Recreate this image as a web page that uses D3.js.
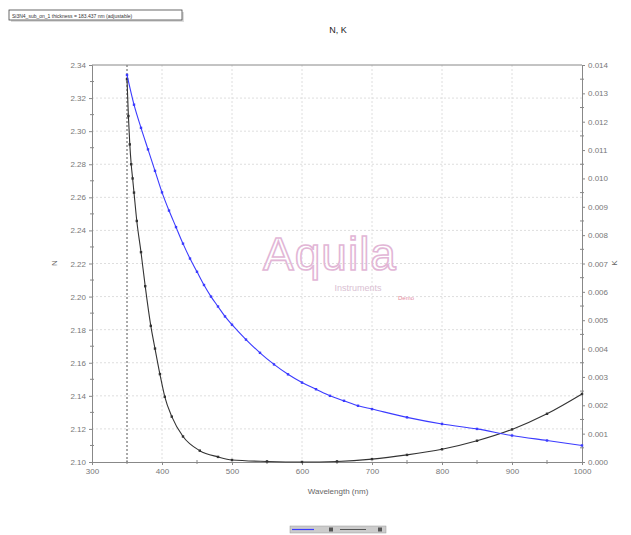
<!DOCTYPE html>
<html>
<head>
<meta charset="utf-8">
<script src="https://cdn.jsdelivr.net/npm/d3@7"></script>
<style>
  body { margin: 0; background: #fff; }
  svg { font-family: "Liberation Sans", Arial, sans-serif; }
</style>
</head>
<body>
<div id="chart"></div>
<script>
// wavelength (nm) and refractive index N
const wl_n = [350,360,370,380,390,400,410,420,430,440,450,460,470,480,490,500,520,540,560,580,600,620,640,660,680,700,750,800,850,900,950,1000]
const n_vals = [2.334,2.316,2.302,2.289,2.276,2.263,2.252,2.242,2.232,2.223,2.215,2.207,2.200,2.194,2.188,2.183,2.174,2.166,2.159,2.153,2.148,2.144,2.140,2.137,2.134,2.132,2.127,2.123,2.120,2.116,2.113,2.110]
// wavelength (nm) and extinction K
const wl_k = [350,352,354,356,358,360,364,370,376,384,390,397,404,414,430,454,480,500,550,600,650,700,750,800,850,900,950,1000]
const k_vals = [0.0135,0.0122,0.0112,0.0105,0.0100,0.0095,0.0085,0.0074,0.0062,0.0048,0.0040,0.0031,0.0023,0.0016,0.0009,0.0004,0.00018,0.00007,0.00002,0.0,0.00002,0.0001,0.00025,0.00045,0.00075,0.00115,0.0017,0.0024]

const x_ticks = [300,400,500,600,700,800,900,1000]
const n_ticks = [2.34,2.32,2.30,2.28,2.26,2.24,2.22,2.20,2.18,2.16,2.14,2.12,2.10]
const k_ticks = [0.014,0.013,0.012,0.011,0.010,0.009,0.008,0.007,0.006,0.005,0.004,0.003,0.002,0.001,0.000]
const cutoff = 350

const W = 631, H = 535
const m = {left: 92, right: 582, top: 65, bottom: 462}

const svg = d3.select('#chart').append('svg').attr('width', W).attr('height', H)

const x = d3.scaleLinear().domain([300, 1000]).range([m.left, m.right])
const yN = d3.scaleLinear().domain([2.10, 2.34]).range([m.bottom, m.top])
const yK = d3.scaleLinear().domain([0, 0.014]).range([m.bottom, m.top])

// grid
svg.append('g').selectAll('line').data(x_ticks.slice(1, -1)).enter().append('line')
    .attr('x1', d => x(d)).attr('x2', d => x(d)).attr('y1', m.top).attr('y2', m.bottom)
    .style('stroke', '#dedede').style('stroke-dasharray', '2,2')
svg.append('g').selectAll('line').data(n_ticks.slice(1, -1)).enter().append('line')
    .attr('x1', m.left).attr('x2', m.right).attr('y1', d => yN(d)).attr('y2', d => yN(d))
    .style('stroke', '#dedede').style('stroke-dasharray', '2,2')

// watermark
const wm = svg.append('g')
wm.append('text').attr('x', 330).attr('y', 270).attr('text-anchor', 'middle')
    .style('font-size', '46px').style('fill', 'none').style('stroke', '#e2b6d6').style('stroke-width', 1.6)
    .style('letter-spacing', '1px').text('Aquila')
wm.append('text').attr('x', 358).attr('y', 291).attr('text-anchor', 'middle')
    .style('font-size', '9px').style('fill', '#d9c0d2').text('Instruments')
wm.append('text').attr('x', 398).attr('y', 300)
    .style('font-size', '6px').style('fill', '#e58aa0').text('Demo')

// cutoff line
svg.append('line').attr('x1', x(cutoff)).attr('x2', x(cutoff)).attr('y1', m.top).attr('y2', m.bottom)
    .style('stroke', '#555').style('stroke-dasharray', '2,2')

// frame
svg.append('line').attr('x1', m.left).attr('x2', m.right).attr('y1', m.top).attr('y2', m.top).style('stroke', '#888')

const axisStyle = g => {
    g.select('.domain').style('stroke', '#888')
    g.selectAll('.tick line').style('stroke', '#888')
    g.selectAll('.tick text').style('fill', '#777').style('font-size', '8px')
}

// minor ticks
const minor = (scale, vals, orient, pos) => {
    const g = svg.append('g')
    vals.forEach(v => {
        if (orient === 'x') g.append('line').attr('x1', scale(v)).attr('x2', scale(v)).attr('y1', pos - 2).attr('y2', pos + 2).style('stroke', '#888')
        else g.append('line').attr('y1', scale(v)).attr('y2', scale(v)).attr('x1', pos - 2).attr('x2', pos + 2).style('stroke', '#888')
    })
}

svg.append('g').attr('transform', `translate(0,${m.bottom})`)
    .call(d3.axisBottom(x).tickValues(x_ticks).tickSize(3).tickFormat(d3.format('d')))
    .call(axisStyle)
svg.append('g').attr('transform', `translate(${m.left},0)`)
    .call(d3.axisLeft(yN).tickValues(n_ticks).tickSize(3).tickFormat(d3.format('.2f')))
    .call(axisStyle)
svg.append('g').attr('transform', `translate(${m.right},0)`)
    .call(d3.axisRight(yK).tickValues(k_ticks).tickSize(3).tickFormat(d3.format('.3f')))
    .call(axisStyle)
minor(x, x_ticks.slice(0, -1).map(d => d + 50), 'x', m.bottom)
minor(yN, n_ticks.slice(0, -1).map(d => d - 0.01), 'y', m.left)
minor(yK, k_ticks.slice(0, -1).map(d => d - 0.0005), 'y', m.right)

// series
const drawSeries = (xs, ys, yScale, color) => {
    const pts = xs.map((v, i) => [x(v), yScale(ys[i])])
    svg.append('path').attr('d', d3.line().curve(d3.curveMonotoneX)(pts))
        .style('fill', 'none').style('stroke', color).style('stroke-width', 1.1)
    svg.append('g').selectAll('rect').data(pts).enter().append('rect')
        .attr('x', d => d[0] - 1.2).attr('y', d => d[1] - 1.2).attr('width', 2.4).attr('height', 2.4)
        .style('fill', color)
}
drawSeries(wl_k, k_vals, yK, '#333')
drawSeries(wl_n, n_vals, yN, '#3b3bff')

// labels
svg.append('text').attr('x', 338).attr('y', 33).attr('text-anchor', 'middle')
    .style('font-size', '9px').style('fill', '#222').text('N, K')
svg.append('text').attr('x', 338).attr('y', 494).attr('text-anchor', 'middle')
    .style('font-size', '8px').style('fill', '#666').text('Wavelength (nm)')
svg.append('text').attr('transform', 'translate(57,263) rotate(-90)').attr('text-anchor', 'middle')
    .style('font-size', '8px').style('fill', '#666').text('N')
svg.append('text').attr('transform', 'translate(617,263) rotate(-90)').attr('text-anchor', 'middle')
    .style('font-size', '8px').style('fill', '#666').text('K')

// info box, top left
svg.append('rect').attr('x', 11).attr('y', 12).attr('width', 173).attr('height', 10).style('fill', '#ddd')
svg.append('rect').attr('x', 9).attr('y', 10).attr('width', 173).attr('height', 10)
    .style('fill', '#fff').style('stroke', '#444').style('stroke-width', 0.8)
svg.append('text').attr('x', 12).attr('y', 17.5).style('font-size', '5px').style('fill', '#333')
    .text('Si3N4_sub_on_1 thickness = 183.437 nm (adjustable)')

// legend
const lg = svg.append('g').attr('transform', 'translate(290,526)')
lg.append('rect').attr('width', 96).attr('height', 7).style('fill', '#ccc').style('stroke', '#999').style('stroke-width', 0.5)
lg.append('line').attr('x1', 2).attr('x2', 24).attr('y1', 3.5).attr('y2', 3.5).style('stroke', '#3b3bff').style('stroke-width', 1.2)
lg.append('rect').attr('x', 39).attr('y', 1.5).attr('width', 4).attr('height', 4).style('fill', '#555')
lg.append('line').attr('x1', 50).attr('x2', 76).attr('y1', 3.5).attr('y2', 3.5).style('stroke', '#555').style('stroke-width', 1)
lg.append('rect').attr('x', 88).attr('y', 1.5).attr('width', 4).attr('height', 4).style('fill', '#555')
</script>
</body>
</html>
